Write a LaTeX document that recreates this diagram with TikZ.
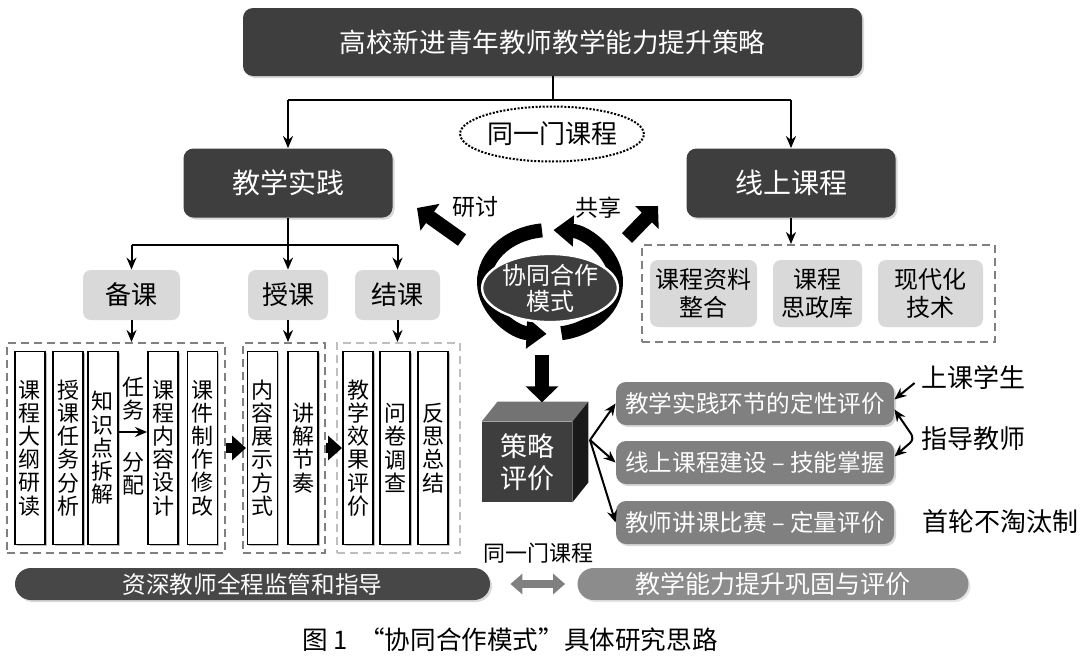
\documentclass[tikz,border=0pt]{standalone}
\usepackage{fontspec}
\setmainfont{Noto Sans CJK SC}
\XeTeXlinebreaklocale "zh"
\XeTeXlinebreakskip=0pt plus 1pt
\usetikzlibrary{shapes.geometric,arrows.meta,positioning,shadows}
\definecolor{darkbox}{HTML}{3E3E3E}
\definecolor{midbox}{HTML}{808080}
\definecolor{lightbox}{HTML}{D9D9D9}

\begin{document}
\begin{tikzpicture}[x=0.5pt,y=-0.5pt,every node/.style={inner sep=0pt, align=center},
dark/.style={fill=darkbox, text=white, rounded corners=5pt, drop shadow={shadow xshift=1pt, shadow yshift=-1pt, fill=gray!60}},
light/.style={fill=lightbox, rounded corners=4pt, font=\fontsize{13}{15}\selectfont},
mid/.style={fill=midbox, text=white, rounded corners=5pt, minimum width=139pt, minimum height=21.5pt, font=\fontsize{11.8}{14}\selectfont, drop shadow={shadow xshift=1pt, shadow yshift=-1pt, fill=gray!60}},
grp/.style={draw=gray, line width=1pt, dash pattern=on 4pt off 2.5pt, minimum height=105pt},
vbox/.style={draw, fill=white, line width=0.9pt, minimum width=15pt, minimum height=96.5pt, text width=13pt, font=\fontsize{11}{11.6}\selectfont, drop shadow={shadow xshift=0.8pt, shadow yshift=-0.8pt, fill=gray!50, opacity=1}},
plain/.style={font=\fontsize{13}{15}\selectfont},
link/.style={line width=1pt, -{Stealth[length=6pt,width=5pt]}},
blk/.style={line width=5pt, -{Triangle[length=7pt,width=12pt]}},
fat/.style={line width=7pt, -{Triangle[length=8pt,width=16pt]}},
cyc/.style={line width=7pt, -{Triangle[length=10pt,width=15pt]}}]
\useasboundingbox (0,0) rectangle (1088,659);

\node[dark, minimum width=309.5pt, minimum height=34pt, font=\fontsize{13.3}{16}\selectfont] (root) at (552.5,42) {高校新进青年教师教学能力提升策略};
\node[dark, minimum width=104.5pt, minimum height=34.5pt, font=\fontsize{14}{16}\selectfont] (prac) at (288,183) {教学实践};
\node[dark, minimum width=104.5pt, minimum height=34.5pt, font=\fontsize{14}{16}\selectfont] (online) at (791,183) {线上课程};
\node[ellipse, draw, line width=1pt, dash pattern=on 1pt off 0.8pt, minimum width=87pt, minimum height=27.5pt, font=\fontsize{13}{15}\selectfont] (same) at (552,134) {同一门课程};
\draw[line width=1pt] (root.south) -- ++(0,24) coordinate (j1);
\draw[line width=1pt] (j1 -| prac) -- (j1 -| online);
\draw[link] (j1 -| prac) -- (prac.north);
\draw[link] (j1 -| online) -- (online.north);

\node[light, minimum width=48.5pt, minimum height=25pt] (bk) at (131.5,295) {备课};
\node[light, minimum width=40pt, minimum height=25pt] (sk) at (288,295) {授课};
\node[light, minimum width=42.5pt, minimum height=25pt] (jk) at (397.5,295) {结课};
\draw[line width=1pt] (prac.south) -- ++(0,27) coordinate (j2);
\draw[line width=1pt] (j2 -| bk) -- (j2 -| jk);
\draw[link] (j2 -| bk) -- (bk.north);
\draw[link] (j2 -| sk) -- (sk.north);
\draw[link] (j2 -| jk) -- (jk.north);

\node[grp, minimum width=109pt] (g1) at (116,448) {};
\node[grp, minimum width=41pt] (g2) at (284,448) {};
\node[grp, draw=gray!50, minimum width=61.5pt] (g3) at (398.5,448) {};
\draw[link] (bk.south) -- (bk.south |- g1.north);
\draw[link] (sk.south) -- (sk.south |- g2.north);
\draw[link] (jk.south) -- (jk.south |- g3.north);
\node[vbox] (v1) at (30,448) {课程大纲研读};
\node[vbox] (v2) at (68,448) {授课任务分析};
\node[vbox] (v3) at (103,448) {知识点拆解};
\node[vbox] (v4) at (163,448) {课程内容设计};
\node[vbox] (v5) at (202.5,448) {课件制作修改};
\node[vbox] (v6) at (262.5,448) {内容展示方式};
\node[vbox] (v7) at (303,448) {讲解节奏};
\node[vbox] (v8) at (358,448) {教学效果评价};
\node[vbox] (v9) at (395,448) {问卷调查};
\node[vbox] (v10) at (433,448) {反思总结};
\node[font=\fontsize{11}{11.6}\selectfont] (task) at (133,399) {任\\务};
\node[font=\fontsize{11}{11.6}\selectfont] (alloc) at (133,474) {分\\配};
\draw[link] ([yshift=8pt]v3.east) -- ([yshift=8pt]v4.west);
\draw[blk] (g1.east) -- ([xshift=2pt]g2.west);
\draw[blk] (g2.east) -- ([xshift=3pt]g3.west);

\node[grp, minimum width=176.5pt, minimum height=48.5pt] (g4) at (818.5,293.5) {};
\draw[link] (online.south) -- (online.south |- g4.north);
\node[light, minimum width=53.5pt, minimum height=33.5pt, font=\fontsize{12}{14}\selectfont] (ka) at (703.5,293.5) {课程资料\\整合};
\node[light, minimum width=44.5pt, minimum height=33.5pt, font=\fontsize{12}{14}\selectfont] (kb) at (817.5,293.5) {课程\\思政库};
\node[light, minimum width=52.5pt, minimum height=33.5pt, font=\fontsize{12}{14}\selectfont] (kc) at (930.5,293.5) {现代化\\技术};

\coordinate (ring) at (550,282);
\draw[cyc] (ring) ++(-80:33pt and 26pt) arc[start angle=-80, end angle=87, x radius=33pt, y radius=26pt];
\draw[cyc] (ring) ++(97:33pt and 26pt) arc[start angle=97, end angle=267, x radius=33pt, y radius=26pt];
\node[ellipse, fill=darkbox, draw=white, line width=1.2pt, text=white, minimum width=60pt, minimum height=33pt, font=\fontsize{12}{13}\selectfont] (coop) at (550,288) {协同合作\\模式};
\node[font=\fontsize{11.5}{13}\selectfont] (yt) at (475,207) {研讨};
\node[font=\fontsize{11.5}{13}\selectfont] (gx) at (598,208) {共享};
\coordinate (yt0) at (462,240);
\coordinate (yt1) at (417,208);
\coordinate (gx0) at (627,238);
\coordinate (gx1) at (658,206);
\draw[fat] (yt0) -- (yt1);
\draw[fat] (gx0) -- (gx1);

\node[fill=darkbox, text=white, minimum width=45pt, minimum height=40pt, font=\fontsize{13.5}{16}\selectfont] (cube) at (527,462) {策略\\评价};
\fill[black!55] (cube.north west) -- ++(16,-20) -- ([shift={(16,-20)}]cube.north east) -- (cube.north east) -- cycle;
\fill[black!90] (cube.north east) -- ++(16,-20) -- ([shift={(16,-20)}]cube.south east) -- (cube.south east) -- cycle;
\draw[fat] ([xshift=-4pt,yshift=-16pt]coop.south) -- ++(0,47);

\node[mid] (e1) at (755,403.5) {教学实践环节的定性评价};
\node[mid] (e2) at (755,462.5) {线上课程建设 – 技能掌握};
\node[mid] (e3) at (755,522.5) {教师讲课比赛 – 定量评价};
\coordinate (fan) at (590,440);
\draw[link] (fan) -- (e1.west);
\draw[link] (fan) -- (e2.west);
\draw[link] (fan) -- (e3.west);
\node[plain] (stu) at (973,377) {上课学生};
\node[plain] (tch) at (973,439) {指导教师};
\node[plain] (rule) at (1000,522) {首轮不淘汰制};
\draw[link] ([xshift=-3pt,yshift=-3pt]stu.west) -- ([yshift=2pt]e1.east);
\draw[line width=1pt, {Stealth[length=6pt,width=5pt]}-{Stealth[length=6pt,width=5pt]}, rounded corners=3pt] ([yshift=-3pt]e1.east) -- ([xshift=-3pt]tch.west) -- ([yshift=3pt]e2.east);

\node[fill=black!72, text=white, rounded corners=8pt, minimum width=237.5pt, minimum height=16pt, font=\fontsize{11.8}{14}\selectfont, drop shadow={shadow xshift=1pt, shadow yshift=-1pt, fill=gray!60}] (lead) at (252.5,584) {资深教师全程监管和指导};
\node[fill=gray!90, text=white, rounded corners=8pt, minimum width=195.5pt, minimum height=16pt, font=\fontsize{12.5}{14}\selectfont, drop shadow={shadow xshift=1pt, shadow yshift=-1pt, fill=gray!40}] (cons) at (773,584) {教学能力提升巩固与评价};
\draw[line width=4pt, draw=gray, {Triangle[length=6pt,width=10pt]}-{Triangle[length=6pt,width=10pt]}, shorten <=10pt, shorten >=6pt] (lead.east) -- (cons.west);
\node[font=\fontsize{11}{13}\selectfont] (same2) at (538,553) {同一门课程};
\node[font=\fontsize{12.8}{15}\selectfont] (cap) at (510,640) {图 1 \ “协同合作模式”具体研究思路};
\end{tikzpicture}
\end{document}
